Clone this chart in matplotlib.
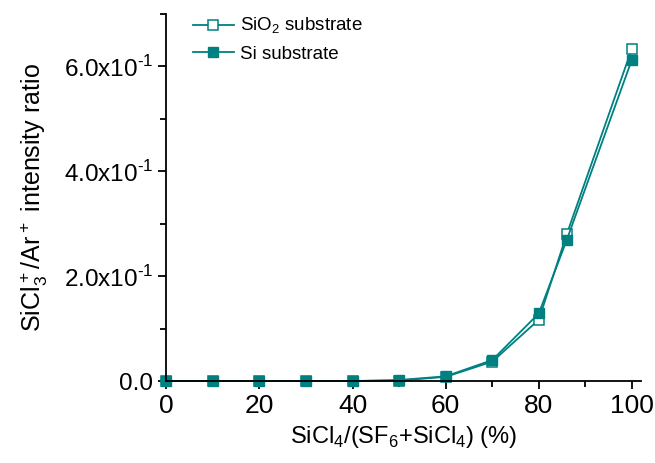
import matplotlib.pyplot as plt
from matplotlib.ticker import MultipleLocator, FuncFormatter

plt.rcParams['font.family'] = ['Liberation Sans', 'DejaVu Sans']
plt.rcParams['mathtext.fontset'] = 'custom'
plt.rcParams['mathtext.rm'] = 'Liberation Sans'

ratio = [0, 10, 20, 30, 40, 50, 60, 70, 80, 86, 100]
sio2 = [0.0, 0.0, 0.0, 0.0, 0.0, 0.001, 0.008, 0.037, 0.117, 0.280, 0.634]
si = [0.0, 0.0, 0.0, 0.0, 0.0, 0.002, 0.009, 0.040, 0.129, 0.269, 0.613]

teal = '#008080'

fig = plt.figure(figsize=(6.55, 4.63), dpi=100)
ax = fig.add_axes([0.254, 0.177, 0.725, 0.793])

ax.plot(ratio, sio2, '-s', color=teal, mfc='white', mec=teal, ms=6.5, mew=1.1, lw=1.3,
        label='SiO$_2$ substrate')
ax.plot(ratio, si, '-s', color=teal, ms=6.5, lw=1.3, label='Si substrate')

ax.set_xlim(0, 102)
ax.set_ylim(0, 0.7)
ax.xaxis.set_major_locator(MultipleLocator(20))
ax.xaxis.set_minor_locator(MultipleLocator(10))
ax.yaxis.set_major_locator(MultipleLocator(0.2))
ax.yaxis.set_minor_locator(MultipleLocator(0.1))


def yfmt(v, pos):
    if abs(v) < 1e-9:
        return '0.0'
    return '%.1fx10$^{\u20101}$' % (v * 10)


ax.yaxis.set_major_formatter(FuncFormatter(yfmt))
ax.spines['top'].set_visible(False)
ax.spines['right'].set_visible(False)
ax.spines['left'].set_linewidth(1.3)
ax.spines['bottom'].set_linewidth(1.3)
ax.tick_params(axis='x', which='major', labelsize=19, length=6, width=1.3)
ax.tick_params(axis='y', which='major', labelsize=17.5, length=6, width=1.3)
ax.tick_params(which='minor', length=4, width=1.3)

ax.set_xlabel('SiCl$_4$/(SF$_6$+SiCl$_4$) (%)', fontsize=17, labelpad=4)
ax.set_ylabel('SiCl$_3^+$/Ar$^+$ intensity ratio', fontsize=18, labelpad=10)

ax.legend(loc='upper left', bbox_to_anchor=(0.02, 1.04), frameon=False, fontsize=13.5,
          handlelength=2.2, handletextpad=0.3, labelspacing=0.5)

for line in ax.lines:
    line.set_clip_on(False)

fig.savefig('out.png', dpi=100)
